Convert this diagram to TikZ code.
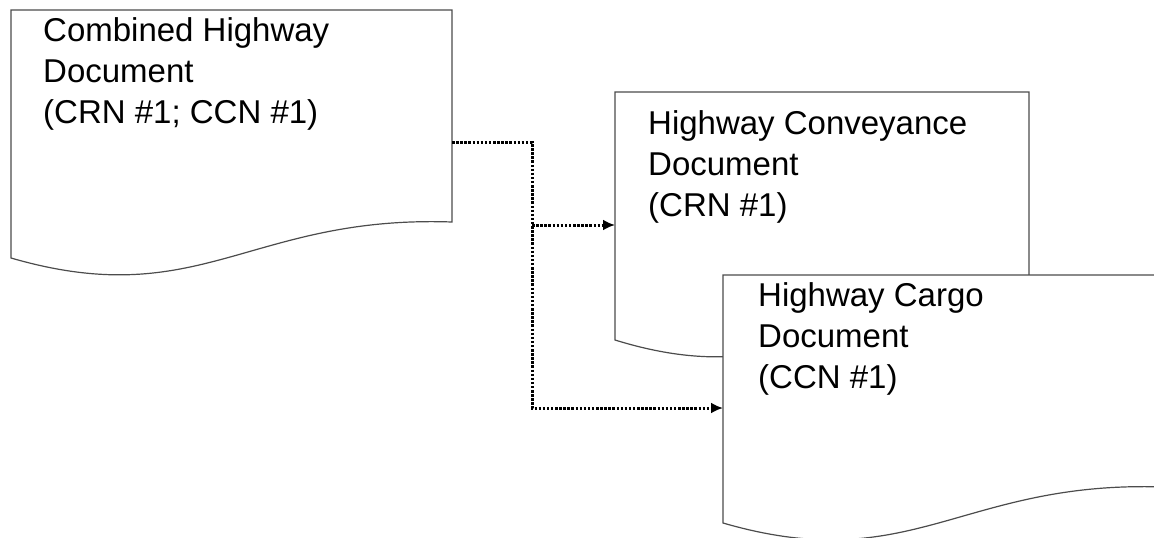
\documentclass[tikz,border=0pt]{standalone}
\usepackage{fontspec}
\setmainfont{Liberation Sans}
\usetikzlibrary{arrows.meta}

% document outline: left x, top y, width, name
\newcommand{\paperdoc}[4]{%
  \draw[paper] (#1,#2) coordinate (#4-nw) -- ++(#3,0) -- ++(0,212)
    .. controls +(-0.46*#3,-7) and +(0.43*#3,55) .. ++(-#3,36) -- cycle;}

\begin{document}
\begin{tikzpicture}[x=1pt,y=-1pt,
    paper/.style={draw=black!70,fill=white,line width=1.2pt},
    doctext/.style={anchor=base west,align=left,inner sep=0pt,
      font=\fontsize{33}{41}\selectfont},
    link/.style={line width=3pt,dash pattern=on 2.5pt off 1.6pt},
    tip/.style={-{Latex[length=12pt,width=11pt]}}
    ]
  \useasboundingbox (0,0) rectangle (1154,538);
  \clip (0,0) rectangle (1154,538);

  \paperdoc{11}{10}{441}{combined}
  \paperdoc{615}{92}{414}{conveyance}
  \paperdoc{723}{275}{441}{cargo}

  \node[doctext] (combined) at (43,123) {Combined Highway\\Document\\(CRN \#1; CCN \#1)};
  \node[doctext] (conveyance) at (648,216) {Highway Conveyance\\Document\\(CRN \#1)};
  \node[doctext] (cargo) at (758,388) {Highway Cargo\\Document\\(CCN \#1)};

  \coordinate (combined-out) at (452,142);
  \coordinate (fork) at (532,225);
  \coordinate (conveyance-in) at (615,225);
  \coordinate (cargo-in) at (723,408);

  \draw[link,tip] (combined-out) -| (fork) |- (cargo-in);
  \draw[link,tip] (fork) -- (conveyance-in);
\end{tikzpicture}
\end{document}
